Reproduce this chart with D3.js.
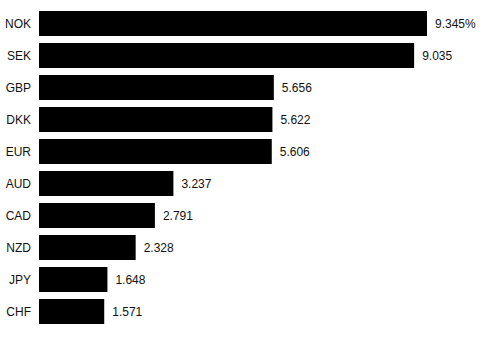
<!DOCTYPE html>
<html>
<head>
<meta charset="utf-8">
<script src="https://cdn.jsdelivr.net/npm/d3@7"></script>
<style>
  html, body { margin: 0; padding: 0; background: #fff; }
  svg { display: block; font-family: "Liberation Sans", Arial, sans-serif; }
</style>
</head>
<body>
<svg id="chart" width="487" height="337"></svg>
<script>
// Currencies and their values (%), top to bottom
const currencies = ["NOK", "SEK", "GBP", "DKK", "EUR", "AUD", "CAD", "NZD", "JPY", "CHF"];
const values = [9.345, 9.035, 5.656, 5.622, 5.606, 3.237, 2.791, 2.328, 1.648, 1.571];
const valueLabels = ["9.345%", "9.035", "5.656", "5.622", "5.606", "3.237", "2.791", "2.328", "1.648", "1.571"];

const data = currencies.map((c, i) => ({ name: c, value: values[i], label: valueLabels[i] }));

const svg = d3.select("#chart");
const left = 39;

const x = d3.scaleLinear().domain([0, 9.345]).range([left, 427]);
const y = d3.scaleBand()
  .domain(currencies)
  .range([7.5, 327.5])
  .paddingInner(7 / 32)
  .paddingOuter(7 / 64);

svg.append("g").selectAll("rect")
  .data(data)
  .join("rect")
  .attr("x", x(0))
  .attr("y", d => y(d.name))
  .attr("width", d => x(d.value) - x(0))
  .attr("height", y.bandwidth())
  .attr("fill", "#000");

// Category labels on the left
svg.append("g").selectAll("text")
  .data(data)
  .join("text")
  .attr("x", 31)
  .attr("y", d => y(d.name) + y.bandwidth() / 2)
  .attr("dy", "0.35em")
  .attr("text-anchor", "end")
  .attr("font-size", 12)
  .attr("fill", "#111")
  .text(d => d.name);

// Value labels after each bar
svg.append("g").selectAll("text")
  .data(data)
  .join("text")
  .attr("x", d => x(d.value) + 8)
  .attr("y", d => y(d.name) + y.bandwidth() / 2)
  .attr("dy", "0.35em")
  .attr("font-size", 12)
  .attr("fill", "#111")
  .text(d => d.label);
</script>
</body>
</html>
